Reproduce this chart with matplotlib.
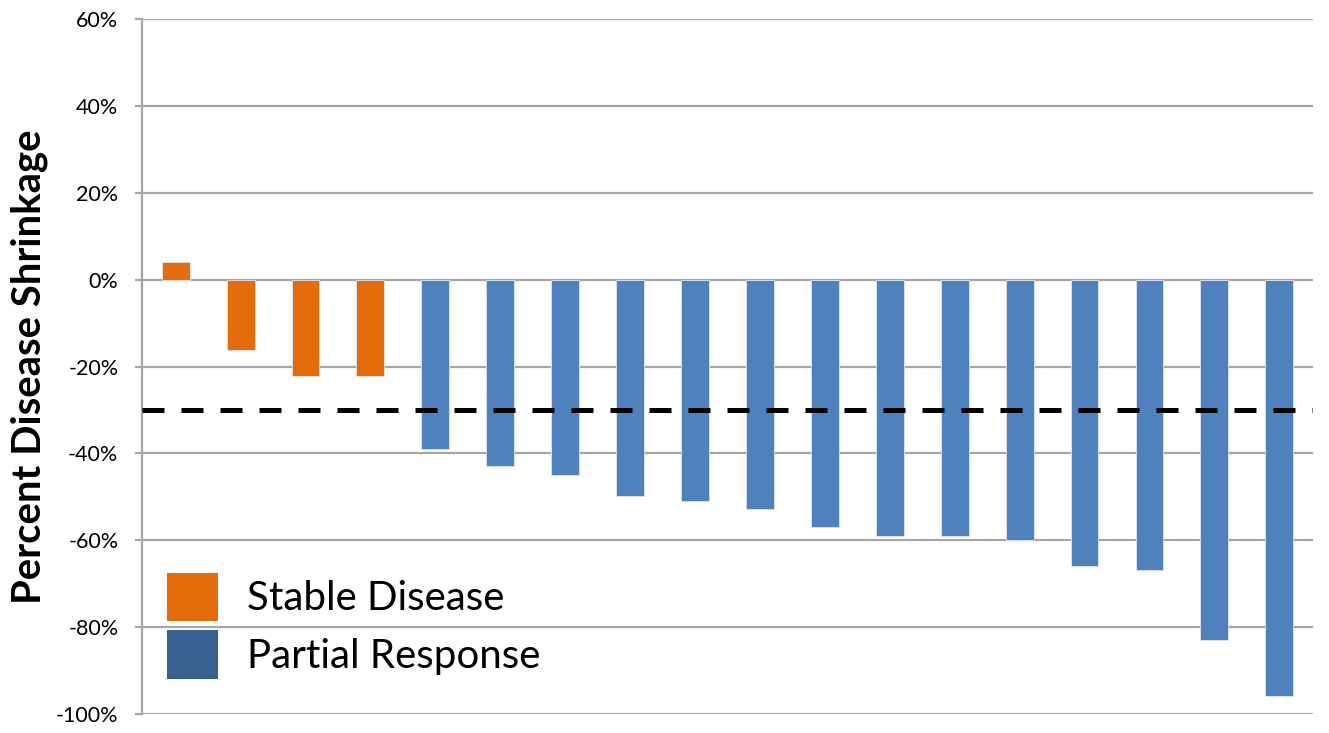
import matplotlib.pyplot as plt
from matplotlib.patches import Patch
from matplotlib.ticker import FuncFormatter, MultipleLocator

# percent change per patient, sorted as in the waterfall
stable_values = [4.1, -16.3, -22.2, -22.2]
partial_values = [-39.0, -42.9, -44.9, -49.7, -50.9, -52.7, -56.9,
                  -59.1, -59.1, -60.0, -65.9, -66.8, -83.0, -95.8]
threshold = -30
legend_labels = ["Stable Disease", "Partial Response"]

ORANGE = "#E46C0A"
BLUE = "#4F81BD"
BLUE_DARK = "#375F8F"
GRID = "#A6A6A6"

plt.rcParams["font.family"] = ["Lato", "DejaVu Sans"]

figure = plt.figure(figsize=(13.29, 7.33), dpi=100)
axis = figure.add_axes([0.1068, 0.0259, 0.8812, 0.9481])

values = stable_values + partial_values
colors = [ORANGE] * len(stable_values) + [BLUE] * len(partial_values)
positions = list(range(len(values)))
axis.bar(positions, values, width=0.43, color=colors,
         edgecolor="#DCE6F2", linewidth=0.6, zorder=3)

axis.axhline(threshold, color="black", linewidth=3.6,
             dashes=(4.4, 3.4), zorder=4)

axis.set_xlim(-0.52, len(values) - 0.48)
axis.set_ylim(-100, 60)
axis.yaxis.set_major_locator(MultipleLocator(20))
axis.yaxis.set_major_formatter(FuncFormatter(lambda v, _: f"{v:.0f}%"))
axis.set_xticks([])
axis.grid(axis="y", color=GRID, linewidth=1.6, zorder=0)
axis.tick_params(axis="y", length=5, width=1.6, color=GRID,
                 pad=12, labelsize=15.5)

for side in ["top", "right", "bottom"]:
    axis.spines[side].set_visible(False)
axis.spines["left"].set_color(GRID)
axis.spines["left"].set_linewidth(1.6)

axis.set_ylabel("Percent Disease Shrinkage", fontsize=28.8,
                fontweight="bold")
axis.yaxis.set_label_coords(-0.080, 0.50)

handles = [Patch(facecolor=ORANGE, edgecolor="none"),
           Patch(facecolor=BLUE_DARK, edgecolor="none")]
axis.legend(handles, legend_labels, loc="upper left",
            bbox_to_anchor=(0.0213, 0.203), borderaxespad=0, borderpad=0,
            frameon=False, fontsize=29,
            handlelength=1.27, handleheight=1.47, handletextpad=0.72,
            labelspacing=0.22)

figure.savefig("out.png", dpi=100)
